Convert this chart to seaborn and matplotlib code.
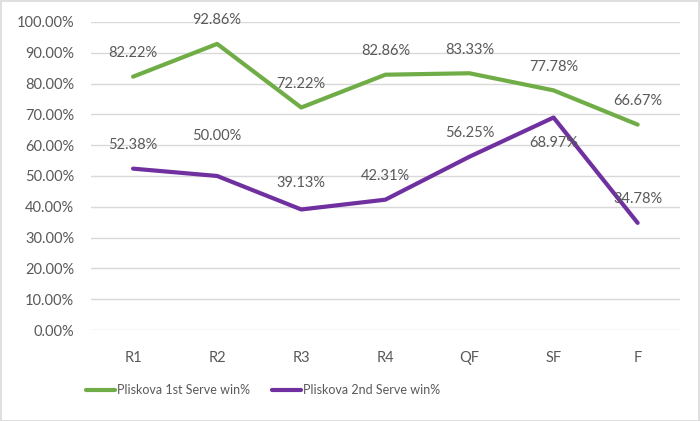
import matplotlib
matplotlib.use('Agg')

import matplotlib.pyplot as plt
import seaborn as sns
import pandas as pd
from matplotlib.patches import Rectangle
from matplotlib.ticker import PercentFormatter

rounds = ['R1', 'R2', 'R3', 'R4', 'QF', 'SF', 'F']
first_serve = [82.22, 92.86, 72.22, 82.86, 83.33, 77.78, 66.67]
second_serve = [52.38, 50.00, 39.13, 42.31, 56.25, 68.97, 34.78]
series_names = ['Pliskova 1st Serve win%', 'Pliskova 2nd Serve win%']
colors = ['#70AD47', '#7030A0']

# label placement, Excel put most above the point
label_dy_first = [17, 17, 17, 17, 17, 17, 17]
label_dy_second = [17, 29, 19, 17, 17, -18, 17]

df = pd.DataFrame({
    'round': rounds * 2,
    'value': [v / 100 for v in first_serve] + [v / 100 for v in second_serve],
    'series': [series_names[0]] * len(rounds) + [series_names[1]] * len(rounds),
})

sns.set_style('white')
plt.rcParams['font.family'] = ['Lato', 'DejaVu Sans']
text_color = '#595959'

fig = plt.figure(figsize=(7, 4.21), dpi=100)
ax = fig.add_axes([0.13, 0.216, 0.841, 0.732])

sns.lineplot(data=df, x='round', y='value', hue='series', palette=colors,
             linewidth=3, ax=ax, sort=False)

ax.set_ylim(0, 1)
ax.set_xlim(-0.5, len(rounds) - 0.5)
ax.set_yticks([i / 10 for i in range(11)])
ax.yaxis.set_major_formatter(PercentFormatter(1.0, decimals=2))
ax.grid(axis='y', color='#D9D9D9', linewidth=1)
ax.set_axisbelow(True)
for s in ax.spines.values():
    s.set_visible(False)
ax.tick_params(axis='y', length=0, pad=12, labelsize=10.5, labelcolor=text_color)
ax.tick_params(axis='x', length=0, pad=15, labelsize=10.5, labelcolor=text_color)
ax.set_xlabel('')
ax.set_ylabel('')

for vals, dys in [(first_serve, label_dy_first), (second_serve, label_dy_second)]:
    for i, (v, dy) in enumerate(zip(vals, dys)):
        ax.annotate(f'{v:.2f}%', (i, v / 100), xytext=(0, dy), textcoords='offset points',
                    ha='center', va='center', fontsize=10.5, color=text_color)

ax.legend(loc='center', bbox_to_anchor=(0.376, 0.073), bbox_transform=fig.transFigure,
          ncol=2, frameon=False, fontsize=9, labelcolor=text_color,
          handlelength=2.3, handletextpad=0.15, columnspacing=1.8)

fig.patches.append(Rectangle((0.001, 0.001), 0.998, 0.997, transform=fig.transFigure,
                             fill=False, edgecolor='#D9D9D9', linewidth=1.2))

fig.savefig('out.png', dpi=100)
